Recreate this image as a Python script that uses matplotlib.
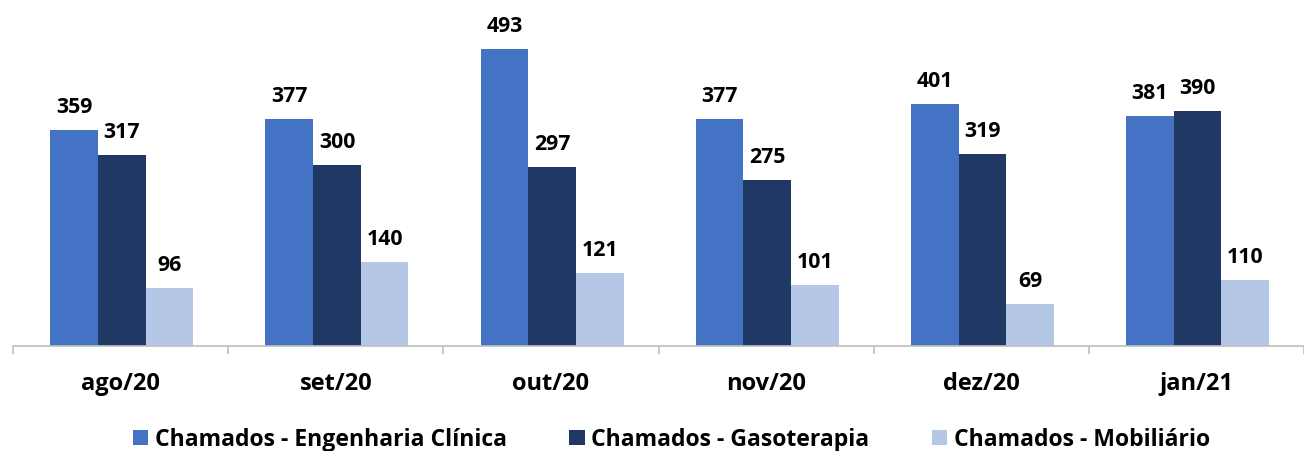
import matplotlib.pyplot as plt
from matplotlib.patches import Patch
import numpy as np

months = ["ago/20", "set/20", "out/20", "nov/20", "dez/20", "jan/21"]
series_names = ["Chamados - Engenharia Clínica", "Chamados - Gasoterapia", "Chamados - Mobiliário"]
eng_clinica = [359, 377, 493, 377, 401, 381]
gasoterapia = [317, 300, 297, 275, 319, 390]
mobiliario = [96, 140, 121, 101, 69, 110]
colors = ["#4472C4", "#203864", "#B4C7E7"]

plt.rcParams['font.family'] = ['Open Sans', 'DejaVu Sans']

W, H = 1304, 451
fig = plt.figure(figsize=(W / 100, H / 100), dpi=100)
base_px = 346
left_px = 13
group_px = 216.5
ax = fig.add_axes([left_px / W, (H - base_px) / H, (W - left_px) / W, base_px / H])

bar_w = 48 / group_px
x = np.arange(len(months))
all_series = [eng_clinica, gasoterapia, mobiliario]
for k, (vals, col) in enumerate(zip(all_series, colors)):
    pos = x + (k - 1) * bar_w + 1.2 / group_px
    bars = ax.bar(pos, vals, width=bar_w, color=col, edgecolor='none')
    for b, v in zip(bars, vals):
        ax.text(b.get_x() + b.get_width() / 2, v + 20, f"{v}", ha='center', va='bottom',
                fontsize=15.3, fontweight='bold', color='#000000')

ax.set_xlim(-0.5, -0.5 + (W - left_px) / group_px)
ax.set_ylim(0, base_px / 0.6024)

for s in ['top', 'right', 'left']:
    ax.spines[s].set_visible(False)
ax.spines['bottom'].set_color('#BFBFBF')
ax.spines['bottom'].set_linewidth(1.2)
ax.set_yticks([])
ax.set_xticks(x)
ax.set_xticklabels(months, fontsize=17, fontweight='bold')
ax.tick_params(axis='x', which='major', length=0, pad=19)
ax.set_xticks(np.arange(-0.5, len(months) + 0.5, 1), minor=True)
ax.tick_params(axis='x', which='minor', length=6, color='#BFBFBF', width=1.2)

handles = [Patch(facecolor=c, edgecolor='none') for c in colors]
fig.legend(handles, series_names, loc='center', bbox_to_anchor=(671.5 / W, 1 - 439.5 / H),
           ncol=3, frameon=False, prop={'weight': 'bold', 'size': 16.6},
           handlelength=0.66, handleheight=0.66, handletextpad=0.3, columnspacing=2.7)

fig.savefig('out.png', dpi=100)
